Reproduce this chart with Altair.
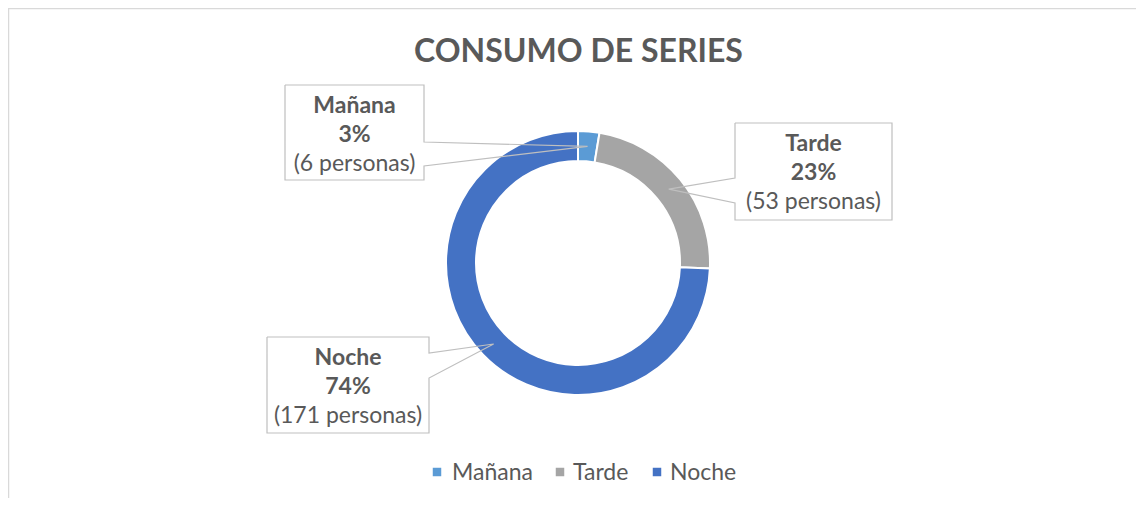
import math
import altair as alt
import pandas as pd

# ---------------- data ----------------
categories = ["Mañana", "Tarde", "Noche"]
counts = [6, 53, 171]
colors = ["#5B9BD5", "#A5A5A5", "#4472C4"]
title_text = "CONSUMO DE SERIES"
unit = "personas"

# ---------------- layout / style ----------------
W, H = 1128, 490
CX, CY = 570, 255
R_OUT, R_IN = 132, 102
FONT = "Lato"
TXT = "#595959"
BORDER = "#BFBFBF"
FRAME = "#D9D9D9"
FS = 23

# callout boxes (svg px): left, top, right, bottom, pointer side, pointer base y0, y1
box_layout = {
    "Mañana": (277, 77, 416, 172, "right", 134, 158),
    "Tarde": (727, 115, 884, 212, "left", 170, 195),
    "Noche": (259, 329, 421, 425, "right", 345, 370),
}
legend_sym_x = [429, 552, 649]
legend_txt_x = [444, 565, 662]
legend_y = 464

total = sum(counts)
pcts = [round(100 * c / total) for c in counts]

df = pd.DataFrame({"cat": categories, "n": counts, "idx": list(range(len(categories)))})

color_scale = alt.Scale(domain=categories, range=colors)

arc = alt.Chart(df).mark_arc(
    outerRadius=R_OUT, innerRadius=R_IN, stroke="white", strokeWidth=2
).encode(
    theta=alt.Theta("n:Q", stack=True),
    color=alt.Color("cat:N", scale=color_scale, legend=None),
    order=alt.Order("idx:Q"),
    x=alt.value(CX),
    y=alt.value(CY),
)

# callout outlines, pointer tip at the slice's mid-angle
rows = []
cum = 0.0
rm = (R_OUT + R_IN) / 2
for cat, n in zip(categories, counts):
    frac = n / total
    mid = (cum + frac / 2) * 2 * math.pi
    cum += frac
    tx, ty = CX + rm * math.sin(mid), CY - rm * math.cos(mid)
    x0, y0, x1, y1, side, b0, b1 = box_layout[cat]
    if side == "right":
        pts = [(x0, y0), (x1, y0), (x1, b0), (tx, ty), (x1, b1), (x1, y1), (x0, y1), (x0, y0)]
    else:
        pts = [(x0, y0), (x1, y0), (x1, y1), (x0, y1), (x0, b1), (tx, ty), (x0, b0), (x0, y0)]
    for k, (px, py) in enumerate(pts):
        rows.append({"cat": cat, "k": k, "px": px, "py": py})
outline_df = pd.DataFrame(rows)

outline = alt.Chart(outline_df).mark_line(color=BORDER, strokeWidth=1.2).encode(
    x=alt.X("px:Q", scale=None, axis=None),
    y=alt.Y("py:Q", scale=None, axis=None),
    detail="cat:N",
    order=alt.Order("k:Q"),
)

bold_rows, norm_rows = [], []
for cat, n, p in zip(categories, counts, pcts):
    x0, y0, x1, y1, *_ = box_layout[cat]
    cx = (x0 + x1) / 2
    bold_rows.append({"px": cx, "py": y0 + 28, "t": cat})
    bold_rows.append({"px": cx, "py": y0 + 57, "t": f"{p}%"})
    norm_rows.append({"px": cx, "py": y0 + 86, "t": f"({n} {unit})"})

lab_bold = alt.Chart(pd.DataFrame(bold_rows)).mark_text(
    font=FONT, fontSize=FS, fontWeight="bold", color=TXT, align="center", baseline="alphabetic"
).encode(x=alt.X("px:Q", scale=None, axis=None), y=alt.Y("py:Q", scale=None, axis=None), text="t:N")

lab_norm = alt.Chart(pd.DataFrame(norm_rows)).mark_text(
    font=FONT, fontSize=FS, color=TXT, align="center", baseline="alphabetic"
).encode(x=alt.X("px:Q", scale=None, axis=None), y=alt.Y("py:Q", scale=None, axis=None), text="t:N")

title = alt.Chart(pd.DataFrame({"t": [title_text]})).mark_text(
    font=FONT, fontSize=32, fontWeight="bold", color=TXT, align="center", baseline="alphabetic"
).encode(x=alt.value(CX + 0.5), y=alt.value(54), text="t:N")

leg_df = pd.DataFrame({"cat": categories, "sx": legend_sym_x, "tx": legend_txt_x, "y": [legend_y] * 3})
leg_sym = alt.Chart(leg_df).mark_square(size=72, opacity=1).encode(
    x=alt.X("sx:Q", scale=None, axis=None),
    y=alt.Y("y:Q", scale=None, axis=None),
    color=alt.Color("cat:N", scale=color_scale, legend=None),
)
leg_txt = alt.Chart(leg_df).mark_text(
    font=FONT, fontSize=FS, color=TXT, align="left", baseline="middle", dy=1
).encode(x=alt.X("tx:Q", scale=None, axis=None), y=alt.Y("y:Q", scale=None, axis=None), text="cat:N")

frame_left = alt.Chart(pd.DataFrame({"a": [0]})).mark_rule(color=FRAME, strokeWidth=1.5).encode(
    x=alt.value(0.5), y=alt.value(0), y2=alt.value(H)
)
frame_top = alt.Chart(pd.DataFrame({"a": [0]})).mark_rule(color=FRAME, strokeWidth=1.5).encode(
    x=alt.value(0), x2=alt.value(W), y=alt.value(0.5)
)

chart = alt.layer(
    frame_left, frame_top, arc, outline, lab_bold, lab_norm, title, leg_sym, leg_txt
).properties(
    width=W, height=H, autosize=alt.AutoSizeParams(type="none"), padding=0
).configure_view(stroke="transparent")

chart.save("out.html", embed_options={"renderer": "svg", "actions": False})
